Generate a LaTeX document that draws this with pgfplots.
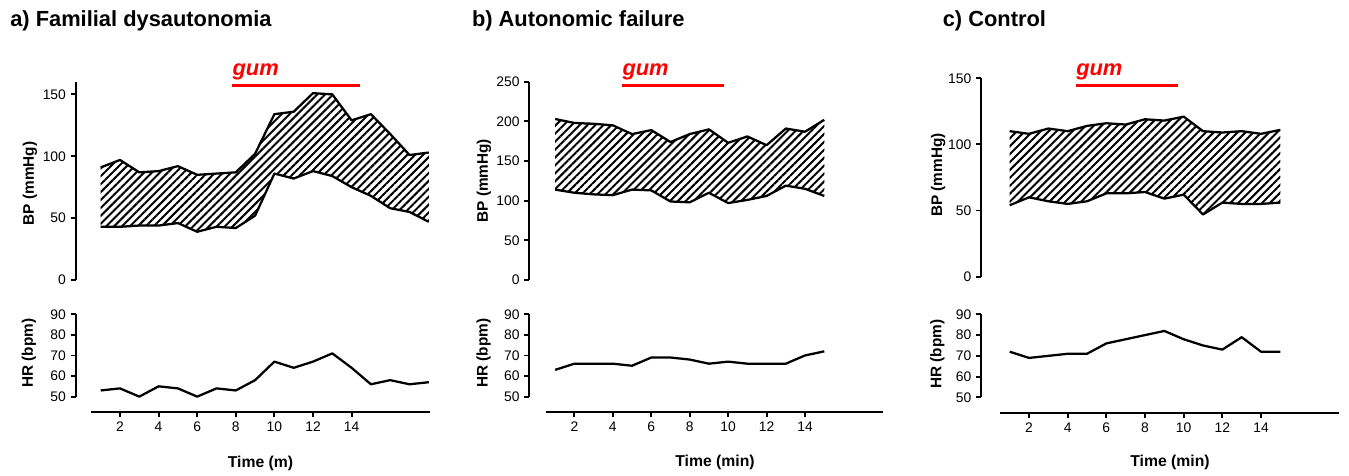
\documentclass[border=0pt]{standalone}
\usepackage{fontspec}
\setmainfont{Liberation Sans}
\usepackage{pgfplots}
\pgfplotsset{compat=1.18}
\usepackage{pgfplotstable}
\usepgfplotslibrary{fillbetween}
\usetikzlibrary{patterns.meta}

% t = minute, sys/dia = BP band (mmHg), hr = heart rate (bpm)
\pgfplotstableread{
t sys dia hr
1 91 43 53
2 97 43 54
3 87 44 50
4 88 44 55
5 92 46 54
6 85 39 50
7 86 43 54
8 87 42 53
9 102 52 58
10 134 86 67
11 136 82 64
12 151 88 67
13 150 84 71
14 129 75 64
15 134 68 56
16 118 58 58
17 101 55 56
18 103 47 57
}\tabA
\pgfplotstableread{
t sys dia hr
1 203 114 63
2 198 110 66
3 197 108 66
4 195 107 66
5 184 114 65
6 189 113 69
7 174 99 69
8 184 98 68
9 190 110 66
10 173 97 67
11 181 101 66
12 170 106 66
13 191 119 66
14 187 115 70
15 202 106 72
}\tabB
\pgfplotstableread{
t sys dia hr
1 110 54 72
2 108 60 69
3 112 57 70
4 110 55 71
5 114 57 71
6 116 63 76
7 115 63 78
8 119 64 80
9 118 59 82
10 121 62 78
11 110 47 75
12 109 56 73
13 110 55 79
14 108 55 72
15 111 56 72
}\tabC

\newcommand\titlefont{\fontsize{16.4}{18}\selectfont\bfseries}
\newcommand\labfont{\fontsize{11.5}{13}\selectfont\bfseries}
\newcommand\timefont{\fontsize{11.8}{13}\selectfont\bfseries}
\newcommand\gumfont{\fontsize{16.4}{18}\selectfont\bfseries\itshape}

\pgfplotsset{
  base/.style={
    scale only axis, clip=false, anchor=south west,
    xmax=18.1,
    axis line style={line width=1.4pt, -},
    every tick/.style={black, line width=1.4pt},
    major tick length=3.75pt,
    tick align=outside,
    tick label style={font=\fontsize{10.4}{12}\selectfont},
    /pgf/number format/assume math mode=true,
  },
  bp/.style={base, axis y line*=left, axis x line=none, xtick=\empty, ymin=0},
  hr/.style={base, axis lines*=left, axis line style={draw=none},
    xtick={2,4,...,14}, ytick={50,60,...,90}, ymin=42.4, ymax=90},
  band/.style={line width=1.7pt, line join=round},
  hatch/.style={draw=none, pattern={Lines[angle=45,distance=4.2pt,line width=1.5pt]}},
  gumline/.style={red, line width=2.3pt},
}

\begin{document}
\begin{tikzpicture}

% ---------- a) Familial dysautonomia ----------
\begin{axis}[bp, at={(56.71pt,-210pt)}, width=266.34pt, height=148.5pt,
  xmin=-0.3, ymax=160, ytick={0,50,100,150}]
\addplot[band, name path=sa] table[x=t, y=sys] {\tabA};
\addplot[band, name path=da] table[x=t, y=dia] {\tabA};
\addplot[hatch] fill between[of=sa and da];
\addplot[gumline] coordinates {(7.82,156.8) (14.43,156.8)};
\node[anchor=base west, text=red, font=\gumfont, inner sep=0pt, yshift=7.5pt] at (axis cs:7.82,156.8) {gum};
\end{axis}
\begin{axis}[hr, at={(56.71pt,-309.2pt)}, width=266.34pt, height=73.5pt, xmin=-0.3]
\addplot[band] table[x=t, y=hr] {\tabA};
\draw[line width=1.4pt] (axis cs:-0.3,50) -- (axis cs:-0.3,90);
\draw[line width=1.4pt] (axis cs:0.5,42.4) -- (axis cs:18.05,42.4);
\end{axis}

% ---------- b) Autonomic failure ----------
\begin{axis}[bp, at={(396.9pt,-210pt)}, width=266.0pt, height=148.7pt,
  xmin=-0.35, ymax=250, ytick={0,50,...,250}]
\addplot[band, name path=sb] table[x=t, y=sys] {\tabB};
\addplot[band, name path=db] table[x=t, y=dia] {\tabB};
\addplot[hatch] fill between[of=sb and db];
\addplot[gumline] coordinates {(4.49,245) (9.78,245)};
\node[anchor=base west, text=red, font=\gumfont, inner sep=0pt, yshift=7.5pt] at (axis cs:4.49,245) {gum};
\end{axis}
\begin{axis}[hr, at={(396.9pt,-309.2pt)}, width=266.0pt, height=73.5pt, xmin=-0.35]
\addplot[band] table[x=t, y=hr] {\tabB};
\draw[line width=1.4pt] (axis cs:-0.35,50) -- (axis cs:-0.35,90);
\draw[line width=1.4pt] (axis cs:0.5,42.4) -- (axis cs:18.05,42.4);
\end{axis}

% ---------- c) Control ----------
\begin{axis}[bp, at={(735.8pt,-207.5pt)}, width=269.4pt, height=148.8pt,
  xmin=-0.48, ymax=150, ytick={0,50,100,150}]
\addplot[band, name path=sc] table[x=t, y=sys] {\tabC};
\addplot[band, name path=dc] table[x=t, y=dia] {\tabC};
\addplot[hatch] fill between[of=sc and dc];
\addplot[gumline] coordinates {(4.43,144.4) (9.69,144.4)};
\node[anchor=base west, text=red, font=\gumfont, inner sep=0pt, yshift=7.5pt] at (axis cs:4.43,144.4) {gum};
\end{axis}
\begin{axis}[hr, at={(735.8pt,-310pt)}, width=269.4pt, height=74.25pt, xmin=-0.48, ymin=42.3]
\addplot[band] table[x=t, y=hr] {\tabC};
\draw[line width=1.4pt] (axis cs:-0.48,50) -- (axis cs:-0.48,90);
\draw[line width=1.4pt] (axis cs:0.5,42.3) -- (axis cs:18.05,42.3);
\end{axis}

% ---------- titles and axis labels ----------
\node[anchor=base west, inner sep=0pt, font=\titlefont] at (7.5pt,-20pt) {a) Familial dysautonomia};
\node[anchor=base west, inner sep=0pt, font=\titlefont] at (353.8pt,-20pt) {b) Autonomic failure};
\node[anchor=base west, inner sep=0pt, font=\titlefont] at (706.9pt,-20pt) {c) Control};

\node[rotate=90, font=\labfont] at (22.5pt,-137.5pt) {BP (mmHg)};
\node[rotate=90, font=\labfont] at (363pt,-135.6pt) {BP (mmHg)};
\node[rotate=90, font=\labfont] at (703.7pt,-131.25pt) {BP (mmHg)};
\node[rotate=90, font=\labfont] at (21.75pt,-265pt) {HR (bpm)};
\node[rotate=90, font=\labfont] at (362.8pt,-265pt) {HR (bpm)};
\node[rotate=90, font=\labfont] at (703.1pt,-265.5pt) {HR (bpm)};

\node[font=\timefont] at (195.4pt,-347.3pt) {Time (m)};
\node[font=\timefont] at (536.25pt,-346.5pt) {Time (min)};
\node[font=\timefont] at (877.5pt,-346.9pt) {Time (min)};

\pgfresetboundingbox
\path[use as bounding box] (0,0) rectangle (1011.75pt,-356.25pt);
\end{tikzpicture}
\end{document}
